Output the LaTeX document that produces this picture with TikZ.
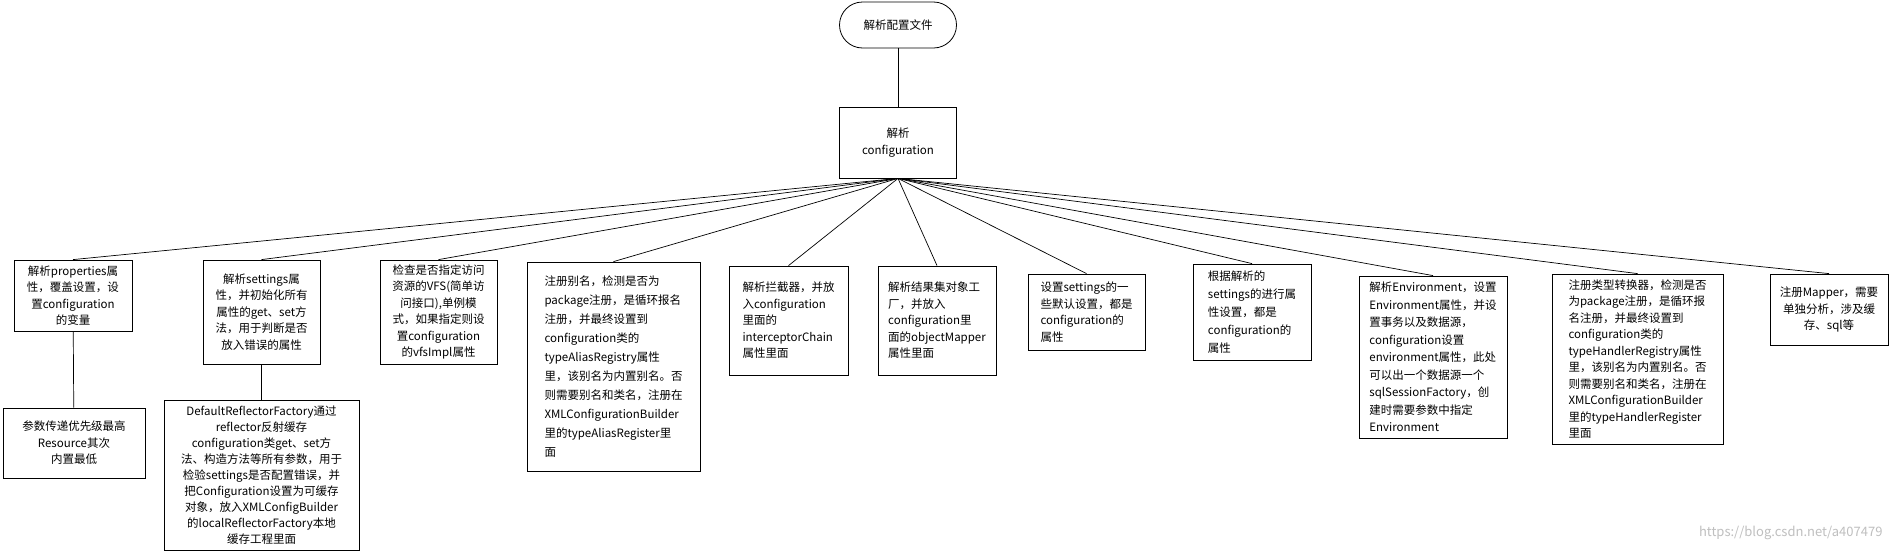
\documentclass[tikz,border=0pt]{standalone}
\usepackage{fontspec}
\setmainfont{Noto Sans CJK SC}
\begin{document}
\begin{tikzpicture}[x=1pt,y=-1pt,
  box/.style={draw, line width=0.8pt, inner sep=2pt, font=\fontsize{11.5}{16.5}\selectfont, align=center},
  lbox/.style={box, align=left},
  link/.style={line width=0.7pt}]
\useasboundingbox[fill=white] (0,0) rectangle (1892,552);
\node[box, rounded corners=23pt, minimum width=117pt, minimum height=46pt] (top) at (898,25) {解析配置文件};
\node[box, minimum width=117pt, minimum height=71pt] (conf) at (898,142.5) {解析\\configuration};
\node[box, minimum width=118pt, minimum height=71pt] (b1) at (73,295.5) {解析properties属\\性，覆盖设置，设\\置configuration\\的变量};
\node[box, minimum width=142pt, minimum height=70pt] (b1c) at (74,443) {参数传递优先级最高\\Resource其次\\内置最低};
\node[box, minimum width=117pt, minimum height=104pt] (b2) at (261.5,312) {解析settings属\\性，并初始化所有\\属性的get、set方\\法，用于判断是否\\放入错误的属性};
\node[box, minimum width=195pt, minimum height=150pt, font=\fontsize{11.5}{16}\selectfont] (b2c) at (261.5,475) {DefaultReflectorFactory通过\\reflector反射缓存\\configuration类get、set方\\法、构造方法等所有参数，用于\\检验settings是否配置错误，并\\把Configuration设置为可缓存\\对象，放入XMLConfigBuilder\\的localReflectorFactory本地\\缓存工程里面};
\node[box, minimum width=117pt, minimum height=104pt] (b3) at (438.5,312) {检查是否指定访问\\资源的VFS(简单访\\问接口),单例模\\式，如果指定则设\\置configuration\\的vfsImpl属性};
\node[lbox, minimum width=173pt, minimum height=209pt, font=\fontsize{11.5}{19}\selectfont] (b4) at (613.5,366.5) {注册别名，检测是否为\\package注册，是循环报名\\注册，并最终设置到\\configuration类的\\typeAliasRegistry属性\\里，该别名为内置别名。否\\则需要别名和类名，注册在\\XMLConfigurationBuilder\\里的typeAliasRegister里\\面};
\node[lbox, minimum width=119pt, minimum height=109pt] (b5) at (788.5,320.5) {解析拦截器，并放\\入configuration\\里面的\\interceptorChain\\属性里面};
\node[lbox, minimum width=118pt, minimum height=109pt] (b6) at (937,320.5) {解析结果集对象工\\厂，并放入\\configuration里\\面的objectMapper\\属性里面};
\node[lbox, minimum width=117pt, minimum height=76pt] (b7) at (1086.5,312) {设置settings的一\\些默认设置，都是\\configuration的\\属性};
\node[lbox, minimum width=118pt, minimum height=96pt, font=\fontsize{11.5}{18}\selectfont] (b8) at (1252,312) {根据解析的\\settings的进行属\\性设置，都是\\configuration的\\属性};
\node[lbox, minimum width=148pt, minimum height=162pt, font=\fontsize{11.5}{17.5}\selectfont] (b9) at (1433,357) {解析Environment，设置\\Environment属性，并设\\置事务以及数据源，\\configuration设置\\environment属性，此处\\可以出一个数据源一个\\sqlSessionFactory，创\\建时需要参数中指定\\Environment};
\node[lbox, minimum width=171pt, minimum height=170pt] (b10) at (1637.5,359) {注册类型转换器，检测是否\\为package注册，是循环报\\名注册，并最终设置到\\configuration类的\\typeHandlerRegistry属性\\里，该别名为内置别名。否\\则需要别名和类名，注册在\\XMLConfigurationBuilder\\里的typeHandlerRegister\\里面};
\node[box, minimum width=118pt, minimum height=71pt] (b11) at (1829,309.5) {注册Mapper，需要\\单独分析，涉及缓\\存、sql等};
\node[text=black!25, font=\fontsize{13}{15}\selectfont, anchor=east] (wm) at (1886,533) {https://blog.csdn.net/a407479};
\draw[link] (top) -- (conf);
\foreach \b in {b1,b2,b3,b4,b5,b6,b7,b8,b9,b10,b11} \draw[link] (conf.south) -- (\b.north);
\draw[link] (b1) -- (b1c);
\draw[link] (b2) -- (b2c);
\end{tikzpicture}
\end{document}
